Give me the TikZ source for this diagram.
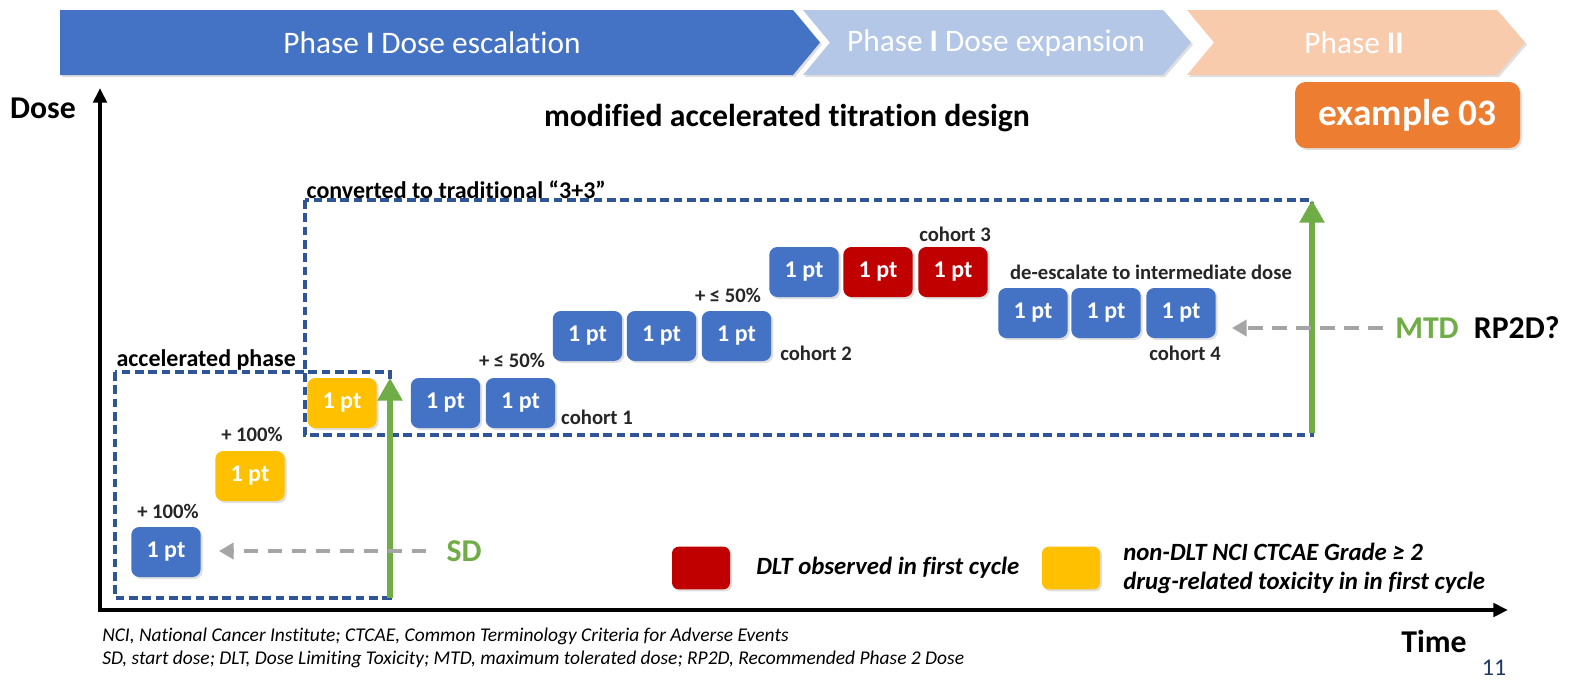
\documentclass[tikz,border=0pt]{standalone}
\usepackage{fontspec}
\setmainfont{Carlito}[Ligatures=NoCommon]
\usetikzlibrary{arrows.meta,positioning,shadows}
\definecolor{ptBlue}{HTML}{4472C4}
\definecolor{ptRed}{HTML}{C00000}
\definecolor{ptYellow}{HTML}{FFC000}
\definecolor{ptGreen}{HTML}{70AD47}
\definecolor{ptGray}{HTML}{A5A5A5}
\definecolor{boxBlue}{HTML}{2F5597}
\definecolor{phaseA}{HTML}{4472C4}
\definecolor{phaseB}{HTML}{B4C7E7}
\definecolor{phaseC}{HTML}{F8CBAD}
\definecolor{exOrange}{HTML}{ED7D31}
\definecolor{pageNo}{HTML}{203864}
\tikzset{
  softshadow/.style={drop shadow={shadow xshift=1.5pt, shadow yshift=-1.5pt, opacity=0.25}},
  ptbox/.style={rounded corners=6pt, minimum width=52pt, minimum height=37.5pt, inner sep=0pt,
    text=white, font=\fontsize{18}{21}\selectfont\bfseries, softshadow},
  ptblue/.style={ptbox, fill=ptBlue},
  ptred/.style={ptbox, fill=ptRed},
  ptyellow/.style={ptbox, fill=ptYellow},
  lab/.style={inner sep=1pt, text=black!85, font=\fontsize{15.5}{18}\selectfont\bfseries},
  grouplab/.style={inner sep=1pt, anchor=south west, font=\fontsize{18}{21}\selectfont\bfseries},
  big/.style={inner sep=1pt, font=\fontsize{23.8}{28}\selectfont\bfseries},
  phase/.style={inner sep=0pt, text=white, font=\fontsize{23.5}{28}\selectfont},
  dashbox/.style={draw=boxBlue, line width=2.4pt, dash pattern=on 6.5pt off 3.5pt},
  greenarr/.style={draw=ptGreen, line width=5pt, -{Triangle[length=17pt,width=18pt]}},
  grayarr/.style={draw=ptGray, line width=3.5pt, dash pattern=on 11pt off 7pt,
    -{Triangle[length=11pt,width=12pt]}},
  axis/.style={line width=3pt, {Triangle[length=11pt,width=10pt]}-{Triangle[length=11pt,width=10pt]}},
  legbox/.style={rounded corners=5pt, minimum width=43.5pt, minimum height=32pt, inner sep=0pt, softshadow},
  legtext/.style={inner sep=0pt, anchor=west, align=left, font=\fontsize{18.6}{21.75}\selectfont\bfseries\itshape},
  foot/.style={inner sep=0pt, anchor=west, font=\fontsize{14.6}{17}\selectfont\itshape}
}
\begin{document}
\begin{tikzpicture}[x=0.75pt, y=-0.75pt]
\fill[white] (0,0) rectangle (1570,687);
\useasboundingbox (0,0) rectangle (1570,687);
% phase banner
\fill[phaseA, softshadow] (60,10) -- (793,10) -- (820,42.5) -- (793,75) -- (60,75) -- cycle;
\fill[phaseB, softshadow] (803,10) -- (1163,10) -- (1191,42.5) -- (1163,75) -- (803,75) -- (830,42.5) -- cycle;
\fill[phaseC, softshadow] (1187,10) -- (1497,10) -- (1525,42.5) -- (1497,75) -- (1187,75) -- (1214,42.5) -- cycle;
\node[phase] (ph1) at (432,43) {Phase \textbf{I} Dose escalation};
\node[phase] (ph2) at (996,43) {Phase \textbf{I} Dose expansion};
\node[phase] (ph3) at (1354,43) {Phase \textbf{II}};
\node[rounded corners=8pt, fill=exOrange, minimum width=168.75pt, minimum height=49.5pt,
  text=white, font=\fontsize{28}{32}\selectfont\bfseries, softshadow] (ex) at (1407.5,115) {example 03};
\node[big] (title) at (787,118) {modified accelerated titration design};
% axes
\coordinate (orig) at (100,610);
\coordinate (yend) at (100,88);
\coordinate (xend) at (1508,610);
\draw[axis] (yend) -- (orig) -- (xend);
\node[big] (dose) at (43,108) {Dose};
\node[big] (time) at (1434,641) {Time};
% dashed groups
\coordinate (accNW) at (115,372);
\coordinate (accSE) at (390,598);
\coordinate (tradNW) at (305,200);
\coordinate (tradSE) at (1312,435);
\draw[dashbox] (accNW) rectangle (accSE);
\draw[dashbox] (tradNW) rectangle (tradSE);
\node[grouplab] (acclab) at (accNW) {accelerated phase};
\node[grouplab] (tradlab) at (tradNW) {converted to traditional “3+3”};
% patients
\node[ptblue] (p0) at (166,552) {1 pt};
\node[ptyellow] (p1) at (250,476) {1 pt};
\node[ptyellow] (p2) at (342,403) {1 pt};
\node[ptblue] (c1a) at (445.5,403) {1 pt};
\node[ptblue] (c1b) at (520.5,403) {1 pt};
\node[ptblue] (c2a) at (587.5,336) {1 pt};
\node[ptblue] (c2b) at (661.5,336) {1 pt};
\node[ptblue] (c2c) at (736.5,336) {1 pt};
\node[ptblue] (c3a) at (804,272) {1 pt};
\node[ptred] (c3b) at (878,272) {1 pt};
\node[ptred] (c3c) at (953,272) {1 pt};
\node[ptblue] (c4a) at (1033,313) {1 pt};
\node[ptblue] (c4b) at (1106,313) {1 pt};
\node[ptblue] (c4c) at (1181,313) {1 pt};
% step labels
\node[lab] at (168,511) {+ 100\%};
\node[lab] at (252,434) {+ 100\%};
\node[lab] at (512,360) {+ ≤ 50\%};
\node[lab] at (728,295) {+ ≤ 50\%};
\node[lab] at (597,417) {cohort 1};
\node[lab] at (816,353) {cohort 2};
\node[lab] at (955,234) {cohort 3};
\node[lab] at (1185,353) {cohort 4};
\node[lab] at (1151,272) {de-escalate to intermediate dose};
% SD and MTD
\node[big, text=ptGreen] (sd) at (464,551) {SD};
\node[big, text=ptGreen] (mtd) at (1427,328) {MTD};
\node[big, right=9pt of mtd] (rp2d) {RP2D?};
\draw[greenarr, shorten >=4.5pt] (accSE) -- (accSE |- accNW);
\draw[greenarr, shorten <=1.5pt] (tradSE) -- (tradSE |- tradNW);
\draw[grayarr, shorten <=14pt, shorten >=13.5pt] (sd.west) -- (sd.west -| p0.east);
\draw[grayarr, shorten <=8pt, shorten >=12pt] (mtd.west) -- (mtd.west -| c4c.east);
% legend
\node[legbox, fill=ptRed] (legred) at (701,568) {};
\node[legtext] (legredtxt) at (756,568) {DLT observed in first cycle};
\node[legbox, fill=ptYellow] (legyel) at (1071,568) {};
\node[legtext] (legyeltxt) at (1123,568) {non-DLT NCI CTCAE Grade ≥ 2\\drug-related toxicity in in first cycle};
% footnotes
\node[foot] (foot1) at (102,636) {NCI, National Cancer Institute; CTCAE, Common Terminology Criteria for Adverse Events};
\node[foot] (foot2) at (102,659) {SD, start dose; DLT, Dose Limiting Toxicity; MTD, maximum tolerated dose; RP2D, Recommended Phase 2 Dose};
\node[text=pageNo, inner sep=0pt, font=\fontsize{18}{21}\selectfont] (page) at (1494,668) {11};
\end{tikzpicture}
\end{document}
